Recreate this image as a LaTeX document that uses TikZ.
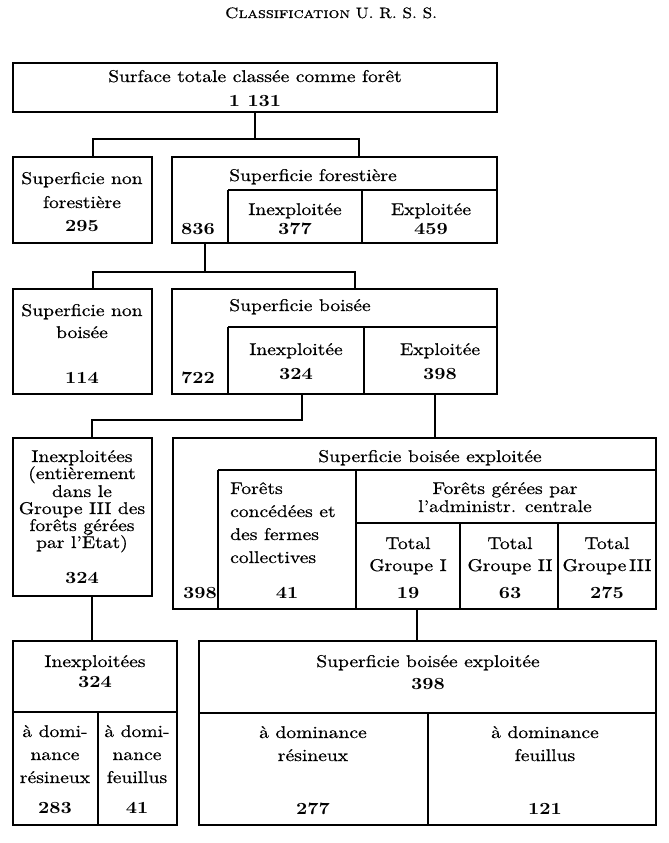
\documentclass[tikz,border=0pt]{standalone}
\usepackage{fontspec}
\setmainfont{lmroman10-regular.otf}[
  BoldFont=lmroman10-bold.otf,
  SmallCapsFont=lmromancaps10-regular.otf,
  FakeStretch=1.15,
  UprightFeatures={FakeBold=0.6}]
\newcommand\fsz{\fontsize{17}{20}\selectfont}
\newcommand\mytext[5][txt]{\node[#1] (#2) at (#3,#4) {#5};}
\tikzset{
  box/.style={draw, line width=1.3pt, inner sep=0pt, outer sep=0pt, anchor=north west},
  rule/.style={line width=1.3pt},
  conn/.style={line width=1.3pt},
  txt/.style={inner sep=0pt, text height=12pt, text depth=0pt, anchor=center, font=\fsz},
  txtw/.style={txt, anchor=west},
  num/.style={txt, font=\fsz\bfseries},
}
\begin{document}
\begin{tikzpicture}[x=1pt, y=-1pt]
\useasboundingbox (0,0) rectangle (669,843);
% title
\node[txt, font=\fontsize{15}{18}\selectfont] (title) at (331,12) {\textsc{Classification} U. R. S. S.};

% boxes
\node[box, minimum width=484pt, minimum height=49pt] (b1) at (13,63) {};
\node[box, minimum width=139pt, minimum height=86pt] (b2a) at (13,157) {};
\node[box, minimum width=325pt, minimum height=86pt] (b2b) at (172,157) {};
\node[box, minimum width=139pt, minimum height=105pt] (b3a) at (13,289) {};
\node[box, minimum width=325pt, minimum height=105pt] (b3b) at (172,289) {};
\node[box, minimum width=139pt, minimum height=158pt] (b4a) at (13,438) {};
\node[box, minimum width=483pt, minimum height=171pt] (b4b) at (173,438) {};
\node[box, minimum width=164pt, minimum height=184pt] (b5a) at (13,641) {};
\node[box, minimum width=457pt, minimum height=184pt] (b5b) at (199,641) {};

% inner rules
\draw[rule] (228,190) -- (497,190);
\draw[rule] (228,190) -- (228,243);
\draw[rule] (362,190) -- (362,243);
\draw[rule] (228,327) -- (497,327);
\draw[rule] (228,327) -- (228,394);
\draw[rule] (364,327) -- (364,394);
\draw[rule] (218,470) -- (656,470);
\draw[rule] (218,470) -- (218,609);
\draw[rule] (356,470) -- (356,609);
\draw[rule] (356,523) -- (656,523);
\draw[rule] (460,523) -- (460,609);
\draw[rule] (558,523) -- (558,609);
\draw[rule] (13,712) -- (177,712);
\draw[rule] (98,712) -- (98,825);
\draw[rule] (199,713) -- (656,713);
\draw[rule] (428,713) -- (428,825);

% connectors
\coordinate (j1l) at (93,139);
\coordinate (j1r) at (359,139);
\draw[conn] (b1.south) -- (b1.south |- j1l);
\draw[conn] (b2a.north -| j1l) -- (j1l) -- (j1r) -- (b2b.north -| j1r);
\coordinate (j2) at (205,272);
\coordinate (j2l) at (93,272);
\coordinate (j2r) at (355,272);
\draw[conn] (b2b.south -| j2) -- (j2);
\draw[conn] (b3a.north -| j2l) -- (j2l) -- (j2r) -- (b3b.north -| j2r);
\coordinate (j3) at (302,420);
\coordinate (j3l) at (92,420);
\coordinate (j3b) at (435,420);
\draw[conn] (b3b.south -| j3) -- (j3) -- (j3l) -- (b4a.north -| j3l);
\draw[conn] (b3b.south -| j3b) -- (b4b.north -| j3b);
\coordinate (j4a) at (92,620);
\coordinate (j4b) at (417,620);
\draw[conn] (b4a.south -| j4a) -- (b5a.north -| j4a);
\draw[conn] (b4b.south -| j4b) -- (b5b.north -| j4b);

% row 1
\mytext{t1a}{255}{76}{Surface totale classée comme forêt}
\mytext[num]{t1b}{255}{100}{1~131}

% row 2
\mytext{t2a1}{82}{178}{Superficie non}
\mytext{t2a2}{82}{202}{forestière}
\mytext[num]{t2a3}{82}{225}{295}
\mytext{t2b1}{313}{175}{Superficie forestière}
\mytext{t2b2}{295}{209}{Inexploitée}
\mytext[num]{t2b3}{295}{228}{377}
\mytext{t2b4}{431}{209}{Exploitée}
\mytext[num]{t2b5}{431}{228}{459}
\mytext[num]{t2b6}{198}{228}{836}

% row 3
\mytext{t3a1}{82}{310}{Superficie non}
\mytext{t3a2}{82}{332}{boisée}
\mytext[num]{t3a3}{82}{377}{114}
\mytext{t3b1}{300}{305}{Superficie boisée}
\mytext{t3b2}{296}{349}{Inexploitée}
\mytext[num]{t3b3}{296}{373}{324}
\mytext{t3b4}{440}{349}{Exploitée}
\mytext[num]{t3b5}{440}{373}{398}
\mytext[num]{t3b6}{198}{377}{722}

% row 4 left
\mytext{t4a1}{82}{456}{Inexploitées}
\mytext{t4a2}{82}{473}{(entièrement}
\mytext{t4a3}{82}{491}{dans le}
\mytext{t4a4}{82}{508}{Groupe III des}
\mytext{t4a5}{82}{525}{forêts gérées}
\mytext{t4a6}{82}{542}{par l’État)}
\mytext[num]{t4a7}{82}{577}{324}

% row 4 right
\mytext{t4b1}{430}{456}{Superficie boisée exploitée}
\mytext[txtw]{t4b2}{230}{488}{Forêts}
\mytext[txtw]{t4b3}{230}{511}{concédées et}
\mytext[txtw]{t4b4}{230}{534}{des fermes}
\mytext[txtw]{t4b5}{230}{557}{collectives}
\mytext[num]{t4b6}{287}{592}{41}
\mytext[num]{t4b7}{200}{592}{398}
\mytext{t4b8}{505}{488}{Forêts gérées par}
\mytext{t4b9}{505}{506}{l’administr. centrale}
\mytext{t4c1}{408}{543}{Total}
\mytext{t4c2}{408}{565}{Groupe I}
\mytext[num]{t4c3}{408}{592}{19}
\mytext{t4d1}{510}{543}{Total}
\mytext{t4d2}{510}{565}{Groupe II}
\mytext[num]{t4d3}{510}{592}{63}
\mytext{t4e1}{607}{543}{Total}
\mytext{t4e2}{607}{565}{Groupe\,III}
\mytext[num]{t4e3}{607}{592}{275}

% row 5 left
\mytext{t5a1}{95}{661}{Inexploitées}
\mytext[num]{t5a2}{95}{681}{324}
\mytext{t5a3}{55}{731}{à domi-}
\mytext{t5a4}{55}{754}{nance}
\mytext{t5a5}{55}{777}{résineux}
\mytext[num]{t5a6}{55}{807}{283}
\mytext{t5a7}{137}{731}{à domi-}
\mytext{t5a8}{137}{754}{nance}
\mytext{t5a9}{137}{777}{feuillus}
\mytext[num]{t5a10}{137}{807}{41}

% row 5 right
\mytext{t5b1}{428}{661}{Superficie boisée exploitée}
\mytext[num]{t5b2}{428}{683}{398}
\mytext{t5b3}{313}{732}{à dominance}
\mytext{t5b4}{313}{755}{résineux}
\mytext[num]{t5b5}{313}{808}{277}
\mytext{t5b6}{545}{732}{à dominance}
\mytext{t5b7}{545}{755}{feuillus}
\mytext[num]{t5b8}{545}{808}{121}
\end{tikzpicture}
\end{document}
